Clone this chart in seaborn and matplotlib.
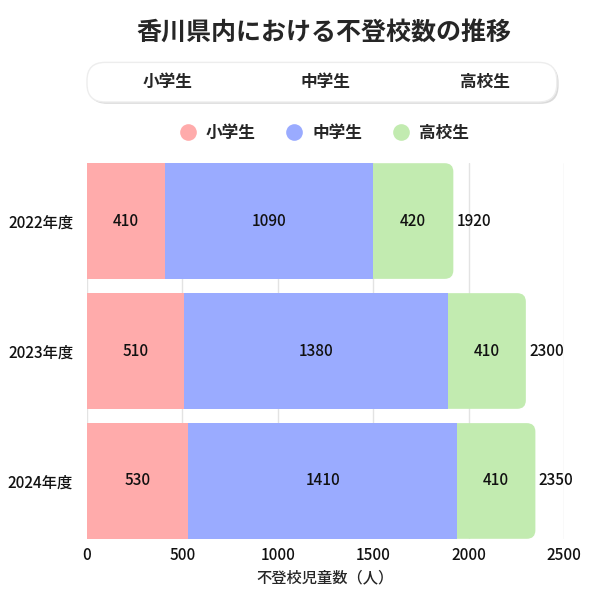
import pandas as pd
import matplotlib
matplotlib.use('Agg')
import matplotlib.pyplot as plt
import seaborn as sns
from matplotlib.patches import FancyBboxPatch
from matplotlib.lines import Line2D

# Data
years = ['2022年度', '2023年度', '2024年度']
elementary = [410, 510, 530]
junior_high = [1090, 1380, 1410]
high_school = [420, 410, 410]
groups = ['小学生', '中学生', '高校生']
colors = ['#FFABAB', '#9AABFF', '#C2EBB0']

df = pd.DataFrame({'year': years, '小学生': elementary, '中学生': junior_high, '高校生': high_school})
df['cum1'] = df['小学生']
df['cum2'] = df['小学生'] + df['中学生']
df['total'] = df['cum2'] + df['高校生']

sns.set_style('white')
plt.rcParams['font.family'] = ['Noto Sans CJK JP', 'DejaVu Sans']

fig = plt.figure(figsize=(6, 6), dpi=100)
ax = fig.add_axes([0.145, 0.102, 0.795, 0.626])

# Stacked bars: draw totals first, then overlay partial sums
bar_kw = dict(width=0.89, saturation=1, linewidth=0, ax=ax)
sns.barplot(data=df, y='year', x='total', color=colors[2], zorder=2, **bar_kw)
sns.barplot(data=df, y='year', x='cum2', color=colors[1], zorder=3, **bar_kw)
sns.barplot(data=df, y='year', x='cum1', color=colors[0], zorder=4, **bar_kw)

ax.set_xlim(0, 2500)
ax.set_ylim(2.445, -0.445)

# Round the right end of the outermost (green) bars
n = len(years)
green = list(ax.patches[:n])
aspect = (0.89 / 116) / (2500 / 477)
for p in green:
    x0, y0 = p.get_x(), p.get_y()
    w, h = p.get_width(), p.get_height()
    p.remove()
    rp = FancyBboxPatch((x0, y0), w, h, boxstyle='round,pad=0,rounding_size=45',
                        mutation_aspect=aspect, facecolor=colors[2], edgecolor='none', zorder=2)
    ax.add_patch(rp)

# Segment labels
lab_kw = dict(va='center', fontsize=11, fontweight='medium', color='#111111', zorder=6)
for i in range(n):
    ax.text(df['cum1'][i] / 2, i, str(elementary[i]), ha='center', **lab_kw)
    ax.text(df['cum1'][i] + junior_high[i] / 2, i, str(junior_high[i]), ha='center', **lab_kw)
    ax.text(df['cum2'][i] + high_school[i] / 2, i, str(high_school[i]), ha='center', **lab_kw)
    ax.text(df['total'][i] + 18, i, str(df['total'][i]), ha='left', **lab_kw)

ax.set_xticks([0, 500, 1000, 1500, 2000, 2500])
ax.grid(axis='x', color='#E3E3E3', linewidth=1, zorder=0)
ax.set_axisbelow(True)
for s in ax.spines.values():
    s.set_visible(False)
ax.tick_params(axis='both', length=0, labelsize=11, labelcolor='#111111')
ax.tick_params(axis='x', pad=6)
ax.tick_params(axis='y', pad=10)
for lbl in ax.get_yticklabels() + ax.get_xticklabels():
    lbl.set_fontweight('medium')
ax.set_ylabel('')
ax.set_xlabel('不登校児童数（人）', fontsize=11, fontweight='medium', labelpad=4)

# Title
fig.text(0.54, 0.945, '香川県内における不登校数の推移', ha='center', va='center', fontsize=18, fontweight='bold')

# Rounded tab box with shadow
shadow = FancyBboxPatch((0.148, 0.827), 0.783, 0.066, boxstyle='round,pad=0,rounding_size=0.03',
                        transform=fig.transFigure, facecolor='#DADADA', edgecolor='none', zorder=1)
box = FancyBboxPatch((0.145, 0.830), 0.783, 0.066, boxstyle='round,pad=0,rounding_size=0.03',
                     transform=fig.transFigure, facecolor='white', edgecolor='#EDEDED', linewidth=1, zorder=2)
fig.patches.extend([shadow, box])
for xpos, g in zip([0.28, 0.543, 0.808], groups):
    fig.text(xpos, 0.863, g, ha='center', va='center', fontsize=12, fontweight='bold', zorder=3)

# Legend
handles = [Line2D([0], [0], marker='o', linestyle='', markersize=12, markerfacecolor=c, markeredgecolor='none')
           for c in colors]
leg = fig.legend(handles, groups, loc='center', bbox_to_anchor=(0.54, 0.778), ncol=3, frameon=False,
                 prop={'size': 12, 'weight': 'bold'}, handlelength=1.0, handletextpad=0.6, columnspacing=1.8)

plt.savefig('out.png', dpi=100)
